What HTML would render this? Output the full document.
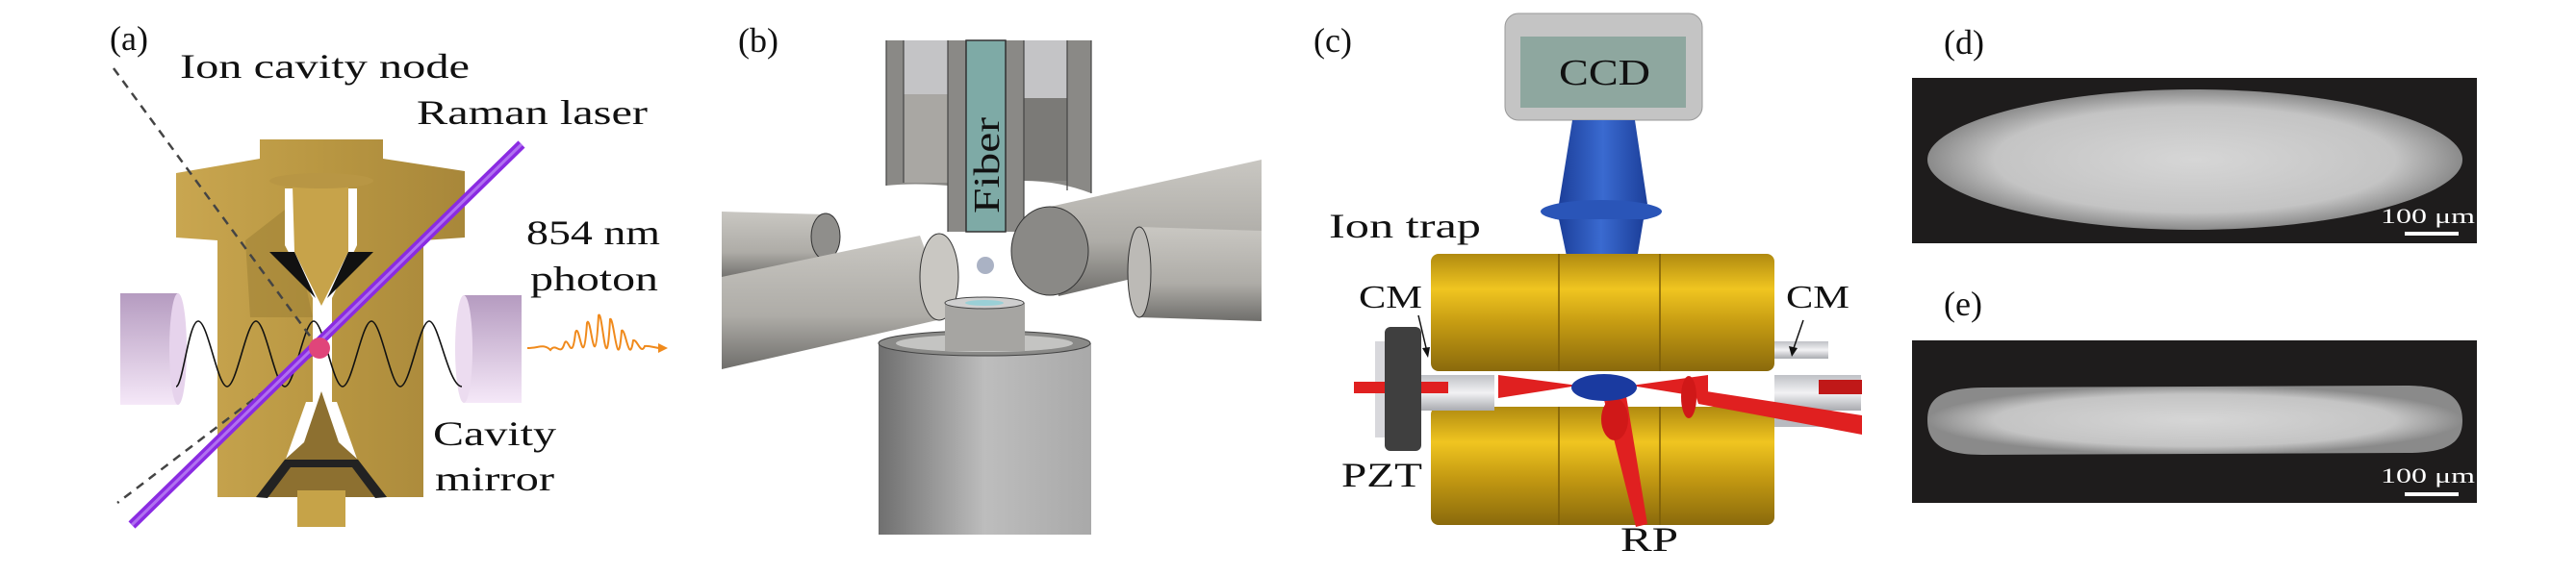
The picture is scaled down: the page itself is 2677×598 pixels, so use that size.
<!DOCTYPE html>
<html><head><meta charset="utf-8"><style>
html,body{margin:0;padding:0;background:#fff}
svg{display:block}
text{font-family:"Liberation Serif",serif;fill:#111}
</style></head><body>
<svg width="2677" height="598" viewBox="0 0 2677 598" xmlns="http://www.w3.org/2000/svg">
<defs>
<linearGradient id="gold" x1="0" y1="0" x2="1" y2="0"><stop offset="0" stop-color="#c9a650"/><stop offset="0.5" stop-color="#b99742"/><stop offset="1" stop-color="#a8873a"/></linearGradient>
<linearGradient id="mir" x1="0" y1="0" x2="0" y2="1"><stop offset="0" stop-color="#b59bc0"/><stop offset="1" stop-color="#f5e8f8"/></linearGradient>
<linearGradient id="grey" x1="0" y1="0" x2="1" y2="0"><stop offset="0" stop-color="#6f6f6f"/><stop offset="0.5" stop-color="#bdbdbd"/><stop offset="1" stop-color="#a9a9a9"/></linearGradient>
<linearGradient id="rod" x1="0" y1="0" x2="0" y2="1"><stop offset="0" stop-color="#c9c7c2"/><stop offset="0.6" stop-color="#aeaca7"/><stop offset="1" stop-color="#6f6e6b"/></linearGradient>
<linearGradient id="brass" x1="0" y1="0" x2="0" y2="1"><stop offset="0" stop-color="#b08a10"/><stop offset="0.3" stop-color="#f0c520"/><stop offset="0.6" stop-color="#c49a12"/><stop offset="1" stop-color="#8a6a0c"/></linearGradient>
<linearGradient id="blue" x1="0" y1="0" x2="1" y2="0"><stop offset="0" stop-color="#1c3f9a"/><stop offset="0.5" stop-color="#3a6ad0"/><stop offset="1" stop-color="#1c3f9a"/></linearGradient>
<linearGradient id="silv" x1="0" y1="0" x2="0" y2="1"><stop offset="0" stop-color="#bfc1c6"/><stop offset="0.5" stop-color="#f2f2f4"/><stop offset="1" stop-color="#a9abb0"/></linearGradient>
<radialGradient id="crys" cx="0.5" cy="0.5" r="0.5"><stop offset="0" stop-color="#d6d6d6"/><stop offset="0.75" stop-color="#c4c4c4"/><stop offset="1" stop-color="#8a8a8a"/></radialGradient>
</defs>

<!-- Panel (a) -->
<text x="114" y="52" font-size="36">(a)</text>
<text x="187" y="81" font-size="36" textLength="301" lengthAdjust="spacingAndGlyphs">Ion cavity node</text>
<text x="433" y="129" font-size="36" textLength="240" lengthAdjust="spacingAndGlyphs">Raman laser</text>
<text x="547" y="254" font-size="36" textLength="139" lengthAdjust="spacingAndGlyphs">854 nm</text>
<text x="551" y="302" font-size="36" textLength="133" lengthAdjust="spacingAndGlyphs">photon</text>
<text x="450" y="463" font-size="36" textLength="128" lengthAdjust="spacingAndGlyphs">Cavity</text>
<text x="452" y="510" font-size="36" textLength="124" lengthAdjust="spacingAndGlyphs">mirror</text>

<!-- gold body -->
<path d="M183,180 L270,165 L270,145 L398,145 L398,165 L483,178 L483,247 L440,250 L440,517 L226,517 L226,250 L183,247 Z" fill="url(#gold)"/>
<path d="M255,250 L300,215 L325,330 L260,330 Z" fill="#9d7f35" opacity="0.55"/>
<!-- slots -->
<path d="M296,196 L371,196 L371,255 L345,310 L345,420 L325,420 L325,310 L296,255 Z" fill="#fff"/>
<!-- upper electrode -->
<path d="M304,193 L362,193 L362,262 L334,318 L306,262 Z" fill="#c7a34a"/>
<path d="M280,262 L306,262 L328,310 Z M388,262 L362,262 L340,310 Z" fill="#111"/>
<ellipse cx="334" cy="188" rx="54" ry="8" fill="#b89644"/>
<!-- lower electrode -->
<path d="M318,418 L350,418 L372,480 L296,480 Z" fill="#fff"/>
<path d="M334,407 L352,460 L372,478 L402,517 L266,517 L296,478 L316,460 Z" fill="#8d7030"/>
<path d="M296,478 L372,478 L402,517 L390,518 L366,486 L302,486 L278,518 L266,517 Z" fill="#222"/>
<rect x="309" y="510" width="50" height="38" fill="#c6a348"/>
<!-- mirrors -->
<rect x="125" y="305" width="60" height="116" fill="url(#mir)"/>
<ellipse cx="185" cy="363" rx="9" ry="58" fill="#e6d3ec"/>
<rect x="482" y="307" width="60" height="112" fill="url(#mir)"/>
<ellipse cx="482" cy="363" rx="9" ry="56" fill="#ecdcf0"/>
<!-- standing wave -->
<path d="M183,402 C190,402 196,334 206,334 C216,334 226,402 236,402 C246,402 256,334 266,334 C276,334 286,402 296,402 C306,402 316,334 326,334 C336,334 346,402 356,402 C366,402 376,334 386,334 C396,334 406,402 416,402 C426,402 436,334 446,334 C456,334 466,402 480,402" fill="none" stroke="#111" stroke-width="1.6"/>
<!-- dashed lines -->
<path d="M118,71 L332,363 L122,523" fill="none" stroke="#444" stroke-width="2.5" stroke-dasharray="9,7"/>
<!-- laser -->
<path d="M137,546 L542,150" stroke="#8a2be2" stroke-width="10"/>
<path d="M137,546 L542,150" stroke="#b070f0" stroke-width="3"/>
<circle cx="332" cy="362" r="11" fill="#e0457a"/>
<!-- photon -->
<path d="M548,362 C560,362 565,357 572,364 C578,356 582,370 586,359 C590,344 594,382 598,346 C602,332 606,394 610,336 C614,324 618,402 622,328 C626,320 630,406 634,332 C638,328 642,396 646,344 C650,340 654,382 658,354 C662,352 666,370 670,360 C676,359 682,363 690,362" fill="none" stroke="#f08a1c" stroke-width="2"/>
<path d="M684,357 L694,362 L684,367 Z" fill="#f08a1c"/>

<!-- Panel (b) -->
<text x="767" y="54" font-size="36">(b)</text>
<!-- fiber tube -->
<path d="M921,42 L1134,42 L1134,201 Q1100,188 1064,188 L1064,241 L985,241 L985,193 Q950,190 921,193 Z" fill="#8a8986"/>
<rect x="939" y="42" width="46" height="56" fill="#c4c4c6"/>
<rect x="1064" y="42" width="45" height="60" fill="#c4c4c6"/>
<rect x="939" y="98" width="46" height="92" fill="#a9a7a3"/>
<rect x="1064" y="102" width="45" height="86" fill="#7b7a77"/>
<path d="M921,42 V193 M939,42 V190 M985,42 V241 M1004,42 V241 M1045,42 V241 M1064,42 V241 M1109,42 V198 M1134,42 V201" stroke="#444" stroke-width="1.2"/>
<rect x="1004" y="42" width="41" height="199" fill="#7eaaa6" stroke="#333" stroke-width="1.5"/>
<text transform="translate(1038,222) rotate(-90)" font-size="38" textLength="100" lengthAdjust="spacingAndGlyphs">Fiber</text>
<!-- left rods -->
<path d="M750,220 L858,223 L858,268 L750,290 Z" fill="url(#rod)"/>
<ellipse cx="858" cy="246" rx="15" ry="24" fill="#8f8e8b" stroke="#333"/>
<path d="M750,288 L956,245 L987,330 L750,384 Z" fill="url(#rod)"/>
<ellipse cx="976" cy="288" rx="20" ry="45" fill="#c9c7c2" stroke="#333"/>
<!-- right rods -->
<path d="M1091,215 L1311,166 L1311,258 L1100,308 Z" fill="url(#rod)"/>
<ellipse cx="1091" cy="261" rx="40" ry="46" fill="#8a8986" stroke="#333"/>
<path d="M1184,236 L1311,240 L1311,334 L1184,330 Z" fill="url(#rod)"/>
<ellipse cx="1184" cy="283" rx="12" ry="47" fill="#bcbab6" stroke="#333"/>
<circle cx="1024" cy="276" r="9" fill="#aab2c4"/>
<!-- bottom cylinder -->
<rect x="913" y="357" width="221" height="199" fill="url(#grey)"/>
<ellipse cx="1023" cy="357" rx="110" ry="13" fill="#8a8a88" stroke="#444"/>
<ellipse cx="1023" cy="357" rx="92" ry="9" fill="#c4c4c2"/>
<rect x="982" y="315" width="83" height="50" fill="#a6a5a2"/>
<ellipse cx="1023" cy="315" rx="41" ry="6" fill="#cfcfcf" stroke="#444"/>
<ellipse cx="1023" cy="315" rx="20" ry="3" fill="#9ad0d6"/>

<!-- Panel (c) -->
<text x="1365" y="54" font-size="36">(c)</text>
<rect x="1564" y="14" width="205" height="111" rx="14" fill="#c4c4c4" stroke="#999"/>
<rect x="1580" y="38" width="172" height="74" fill="#8ea79f"/>
<text x="1620" y="88" font-size="38" textLength="95" lengthAdjust="spacingAndGlyphs">CCD</text>
<path d="M1634,125 L1699,125 L1712,212 L1620,212 Z" fill="url(#blue)"/>
<ellipse cx="1664" cy="220" rx="63" ry="12" fill="#2a55b8"/>
<path d="M1620,228 L1708,228 L1700,276 L1630,276 Z" fill="url(#blue)"/>
<text x="1381" y="247" font-size="36" textLength="158" lengthAdjust="spacingAndGlyphs">Ion trap</text>
<rect x="1487" y="264" width="357" height="122" rx="8" fill="url(#brass)"/>
<rect x="1487" y="423" width="357" height="123" rx="8" fill="url(#brass)"/>
<path d="M1620,264 L1620,386 M1725,264 L1725,386 M1620,423 L1620,546 M1725,423 L1725,546" stroke="#7a5c08" stroke-width="1.5"/>
<rect x="1429" y="390" width="124" height="37" fill="url(#silv)"/>
<rect x="1429" y="355" width="20" height="100" fill="#d8d8dc"/>
<rect x="1439" y="340" width="38" height="129" rx="6" fill="#3f3f3f"/>
<rect x="1844" y="355" width="56" height="18" fill="url(#silv)"/>
<rect x="1844" y="390" width="90" height="37" fill="url(#silv)"/>
<rect x="1844" y="427" width="56" height="17" fill="#b8bac0"/>
<path d="M1407,397 L1439,397 L1439,409 L1407,409 Z M1477,397 L1505,397 L1505,409 L1477,409 Z" fill="#e02020"/>
<path d="M1557,390 L1640,401 L1557,414 Z M1695,401 L1775,390 L1775,414 Z" fill="#e02020"/>
<path d="M1890,395 L1935,395 L1935,410 L1890,410 Z" fill="#c01818"/>
<path d="M1760,405 L1935,432 L1935,452 L1765,420 Z" fill="#e02020"/>
<ellipse cx="1755" cy="413" rx="8" ry="22" fill="#d01818"/>
<path d="M1666,412 L1690,412 L1712,545 L1700,548 Z" fill="#e02020"/>
<ellipse cx="1678" cy="436" rx="14" ry="22" fill="#d01818"/>
<ellipse cx="1667" cy="403" rx="34" ry="14" fill="#1a3aa0"/>
<text x="1412" y="320" font-size="34" textLength="66" lengthAdjust="spacingAndGlyphs">CM</text>
<text x="1856" y="320" font-size="34" textLength="66" lengthAdjust="spacingAndGlyphs">CM</text>
<path d="M1474,328 L1483,366" stroke="#111" stroke-width="1.5"/><path d="M1478,362 L1484,372 L1486,361 Z" fill="#111"/>
<path d="M1874,333 L1863,365" stroke="#111" stroke-width="1.5"/><path d="M1859,360 L1862,371 L1868,362 Z" fill="#111"/>
<text x="1394" y="506" font-size="36" textLength="84" lengthAdjust="spacingAndGlyphs">PZT</text>
<text x="1684" y="573" font-size="36" textLength="60" lengthAdjust="spacingAndGlyphs">RP</text>

<!-- Panel (d) -->
<text x="2020" y="56" font-size="36">(d)</text>
<rect x="1987" y="81" width="587" height="172" fill="#1e1c1c"/>
<path d="M2003,166 C2003,128 2130,93 2280,93 C2430,93 2559,128 2559,166 C2559,204 2430,239 2280,239 C2130,239 2003,204 2003,166 Z" fill="url(#crys)"/>
<text x="2474" y="232" font-size="22" style="fill:#fff" textLength="98" lengthAdjust="spacingAndGlyphs">100 μm</text>
<rect x="2499" y="241" width="56" height="4" fill="#fff"/>

<!-- Panel (e) -->
<text x="2020" y="328" font-size="36">(e)</text>
<rect x="1987" y="354" width="587" height="169" fill="#1e1c1c"/>
<path d="M2003,437 C2003,412 2020,404 2060,403 L2500,401 C2545,401 2559,415 2559,437 C2559,460 2545,471 2500,471 L2060,473 C2020,473 2003,462 2003,437 Z" fill="url(#crys)"/>
<text x="2474" y="502" font-size="22" style="fill:#fff" textLength="98" lengthAdjust="spacingAndGlyphs">100 μm</text>
<rect x="2499" y="512" width="56" height="4" fill="#fff"/>
</svg>
</body></html>
